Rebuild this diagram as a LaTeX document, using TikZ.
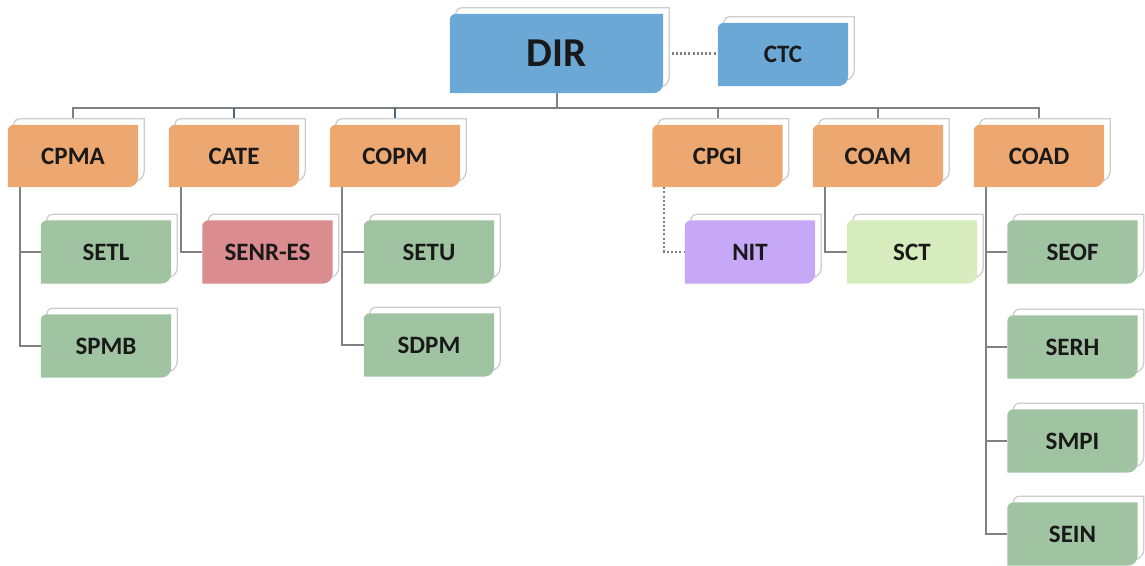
\documentclass[tikz,border=0pt]{standalone}
\usepackage{fontspec}
\setmainfont{Carlito}
\usetikzlibrary{calc}
\pgfdeclarelayer{bg}\pgfdeclarelayer{mid}
\pgfsetlayers{bg,mid,main}
\definecolor{cblue}{RGB}{108,168,214}
\definecolor{corange}{RGB}{236,168,112}
\definecolor{cgreen}{RGB}{160,196,162}
\definecolor{cred}{RGB}{218,140,142}
\definecolor{cpurple}{RGB}{198,168,246}
\definecolor{clgreen}{RGB}{214,236,188}
\definecolor{framegray}{RGB}{205,205,205}
\definecolor{linkgray}{RGB}{128,128,128}
\definecolor{linkblue}{RGB}{70,100,140}
\tikzset{
 orgbox/.style={rectangle, inner sep=0pt, minimum width=130pt, minimum height=63pt,
   font=\bfseries\fontsize{25}{28}\selectfont, text=black!90},
 link/.style={draw=linkgray, line width=2pt},
 dotlink/.style={draw=linkgray, line width=2.2pt, dash pattern=on 2pt off 2.2pt},
}
\newcommand\bpath[4]{\path[#4]
 ($(#1.north west)+(#2,#3)+(0,6)$) .. controls ($(#1.north west)+(#2,#3)+(0,2.7)$) and ($(#1.north west)+(#2,#3)+(2.7,0)$) .. ($(#1.north west)+(#2,#3)+(6,0)$)
 -- ($(#1.north east)+(#2,#3)$)
 -- ($(#1.south east)+(#2,#3)+(0,-10)$) .. controls ($(#1.south east)+(#2,#3)+(0,-4.5)$) and ($(#1.south east)+(#2,#3)+(-4.5,0)$) .. ($(#1.south east)+(#2,#3)+(-10,0)$)
 -- ($(#1.south west)+(#2,#3)$) -- cycle;}
\newcommand\boxdraw[2]{\begin{pgfonlayer}{mid}%
 \bpath{#1}{6}{-6}{fill=white,draw=framegray,line width=1.3pt}%
 \bpath{#1}{0}{0}{fill=#2}%
 \end{pgfonlayer}}
\begin{document}
\begin{tikzpicture}[x=1pt,y=-1pt]
\useasboundingbox (0,0) rectangle (1145,565);
% top
\node[orgbox, minimum width=213pt, minimum height=79pt, font=\bfseries\fontsize{41}{45}\selectfont] (DIR) at (556.5,53.5) {DIR};
\node[orgbox, font=\bfseries\fontsize{25}{28}\selectfont] (CTC) at (783,54.5) {CTC};
% level 1
\node[orgbox, minimum height=62pt] (CPMA) at (73,156) {CPMA};
\node[orgbox, minimum height=62pt] (CATE) at (234,156) {CATE};
\node[orgbox, minimum height=62pt] (COPM) at (395,156) {COPM};
\node[orgbox, minimum height=62pt] (CPGI) at (717.5,156) {CPGI};
\node[orgbox, minimum height=62pt] (COAM) at (878,156) {COAM};
\node[orgbox, minimum height=62pt] (COAD) at (1039,156) {COAD};
% level 2
\node[orgbox] (SETL) at (106,252) {SETL};
\node[orgbox] (SPMB) at (106,346) {SPMB};
\node[orgbox] (SENR) at (267.5,252) {SENR-ES};
\node[orgbox] (SETU) at (429,252) {SETU};
\node[orgbox] (SDPM) at (429,345) {SDPM};
\node[orgbox] (NIT) at (750,252) {NIT};
\node[orgbox] (SCT) at (912,252) {SCT};
\node[orgbox] (SEOF) at (1072.5,252) {SEOF};
\node[orgbox] (SERH) at (1072.5,347) {SERH};
\node[orgbox] (SMPI) at (1072.5,441) {SMPI};
\node[orgbox] (SEIN) at (1072.5,534) {SEIN};
% shapes
\boxdraw{DIR}{cblue}
\boxdraw{CTC}{cblue}
\foreach \n in {CPMA,CATE,COPM,CPGI,COAM,COAD} {\boxdraw{\n}{corange}}
\foreach \n in {SETL,SPMB,SETU,SDPM,SEOF,SERH,SMPI,SEIN} {\boxdraw{\n}{cgreen}}
\boxdraw{SENR}{cred}
\boxdraw{NIT}{cpurple}
\boxdraw{SCT}{clgreen}
% connectors
\coordinate (bus) at (556.5,108);
\begin{pgfonlayer}{bg}
\draw[dotlink] (DIR.east) -- (DIR.east -| CTC.west);
\draw[link] (DIR.south) -- (bus);
\draw[link] (CPMA.north) -- (CPMA.north |- bus) -- (COAD.north |- bus) -- (COAD.north);
\draw[link, draw=linkblue] (CATE.north) -- (CATE.north |- bus);
\draw[link, draw=linkblue] (COPM.north) -- (COPM.north |- bus);
\draw[link] (CPGI.north) -- (CPGI.north |- bus);
\draw[link] (COAM.north) -- (COAM.north |- bus);
\draw[link] ($(CPMA.south west)+(12,0)$) |- (SETL.west);
\draw[link] ($(CPMA.south west)+(12,0)$) |- (SPMB.west);
\draw[link] ($(CATE.south west)+(12,0)$) |- (SENR.west);
\draw[link] ($(COPM.south west)+(12,0)$) |- (SETU.west);
\draw[link] ($(COPM.south west)+(12,0)$) |- (SDPM.west);
\draw[dotlink] ($(CPGI.south west)+(12,0)$) |- (NIT.west);
\draw[link] ($(COAM.south west)+(12,0)$) |- (SCT.west);
\draw[link] ($(COAD.south west)+(12,0)$) |- (SEOF.west);
\draw[link] ($(COAD.south west)+(12,0)$) |- (SERH.west);
\draw[link] ($(COAD.south west)+(12,0)$) |- (SMPI.west);
\draw[link] ($(COAD.south west)+(12,0)$) |- (SEIN.west);
\end{pgfonlayer}
\end{tikzpicture}
\end{document}
